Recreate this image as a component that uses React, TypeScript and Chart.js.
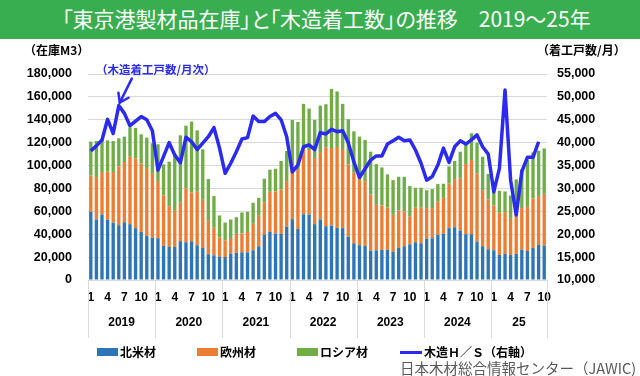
import React, { useEffect, useRef } from 'react';
import { Chart, registerables } from 'chart.js';
Chart.register(...registerables);

// ---- categories ----
const YEAR_LABELS = ['2019', '2020', '2021', '2022', '2023', '2024', '25'];
const MONTHS_IN_YEAR = [12, 12, 12, 12, 12, 12, 10];
const MONTH_TICKS = [1, 4, 7, 10];

// ---- series (m3 / houses per month) ----
const NORTH_AMERICA = [
  59600, 52900, 57200, 52600, 50200, 47900, 50500, 48800, 45300, 42000, 38500, 36800,
  36500, 29800, 28900, 28900, 33900, 33000, 33900, 30400, 28000, 22500, 21600, 20100,
  20100, 23100, 23900, 24200, 24200, 26000, 29500, 39700, 42000, 40600, 40300, 46400,
  53100, 44700, 57500, 57200, 48800, 52900, 47000, 47600, 45600, 45300, 37700, 32100,
  30400, 29800, 25700, 26000, 26300, 26300, 24800, 28000, 29500, 31200, 33000, 32100,
  35900, 36500, 39400, 40600, 45300, 46100, 43200, 40000, 40000, 33600, 29500, 26900,
  26000, 21900, 22800, 21900, 22800, 26600, 25400, 28000, 30700, 30100,
];
const EUROPE = [
  31800, 37000, 37100, 42000, 44100, 51400, 52600, 58900, 61000, 59900, 59300, 56600,
  49900, 44100, 35600, 31500, 33600, 47000, 42600, 46700, 42100, 29800, 24000, 17000,
  14600, 12800, 16400, 16400, 17800, 23100, 26600, 28300, 35100, 36800, 38800, 40000,
  47300, 51400, 57500, 56400, 57800, 58900, 68600, 67700, 70600, 69200, 63300, 61600,
  57800, 56600, 49100, 39700, 38800, 37100, 32100, 33000, 30400, 24600, 30100, 31000,
  26900, 26300, 28900, 31200, 38800, 42100, 45300, 61300, 64800, 59500, 49000, 43500,
  39100, 36800, 36500, 31500, 40600, 36200, 38500, 43200, 42000, 45200,
];
const RUSSIA = [
  29500, 31600, 28600, 27400, 27200, 24500, 22200, 25700, 26600, 25400, 26600, 26000,
  32200, 27100, 38900, 49700, 58900, 54900, 61900, 53700, 44100, 35900, 27700, 19300,
  15500, 17000, 14600, 18400, 17600, 18400, 15700, 20500, 19300, 19800, 24900, 26300,
  39500, 42000, 38900, 36200, 33300, 40600, 38000, 51700, 48500, 39400, 39500, 36200,
  37100, 35900, 37300, 35600, 33300, 28900, 30400, 29200, 30300, 26300, 17500, 17500,
  15700, 16600, 15500, 12300, 15200, 15800, 23600, 16700, 23400, 26900, 29200, 22200,
  15800, 19300, 18100, 20500, 24500, 33900, 41200, 40300, 40300, 39700,
];
const HOUSING_STARTS = [
  38200, 39300, 40600, 45100, 42000, 48100, 46400, 43700, 44700, 45700, 45000, 42600,
  34000, 37000, 40000, 37300, 35600, 41200, 40200, 38500, 39900, 41300, 43300, 38800,
  33300, 35500, 38000, 40800, 41100, 45800, 44600, 44600, 45700, 46400, 45000, 41300,
  33600, 35100, 39100, 39500, 38500, 42200, 41900, 42900, 42400, 42600, 40000, 35800,
  32400, 34300, 36200, 37100, 37100, 39700, 40400, 41200, 40400, 40600, 38400, 35500,
  31800, 32600, 35100, 38800, 35700, 39100, 40400, 39700, 40600, 41700, 39100, 37500,
  29300, 34400, 51500, 31800, 24200, 33700, 36800, 36800, 40200, null,
];

// ---- texts ----
const TITLE = '「東京港製材品在庫」と「木造着工数」の推移　2019～25年';
const LEFT_AXIS_TITLE = '（在庫M3）';
const RIGHT_AXIS_TITLE = '（着工戸数/月）';
const ANNOTATION = '（木造着工戸数/月次）';
const SOURCE = '日本木材総合情報センター（JAWIC)';
const SERIES_NAMES = ['北米材', '欧州材', 'ロシア材', '木造Ｈ／Ｓ（右軸）'];

// ---- styles ----
const BLUE = '#2E75B6';
const ORANGE = '#ED7D31';
const GREEN = '#70AD47';
const LINE = '#2B2BF0';
const TITLE_BG = '#38AE50';
const NUM_FONT = "'Liberation Sans', Arial, sans-serif";
const JP_FONT = "'Noto Sans CJK JP', 'Noto Sans', sans-serif";

const LABELS: string[] = [];
MONTHS_IN_YEAR.forEach((n) => {
  for (let m = 1; m <= n; m++) LABELS.push(String(m));
});

const yearPlugin = {
  id: 'yearRow',
  afterDraw(chart: any) {
    const { ctx, chartArea } = chart;
    const xs = chart.scales.x;
    const px = (i: number) => xs.getPixelForValue(i);
    ctx.save();
    ctx.strokeStyle = '#D9D9D9';
    ctx.lineWidth = 1;
    ctx.fillStyle = '#000';
    ctx.font = `bold 12px ${NUM_FONT}`;
    ctx.textAlign = 'center';
    ctx.textBaseline = 'middle';
    let start = 0;
    MONTHS_IN_YEAR.forEach((n, yi) => {
      const end = start + n - 1;
      const left = yi === 0 ? chartArea.left : (px(start - 1) + px(start)) / 2;
      const right = yi === MONTHS_IN_YEAR.length - 1 ? chartArea.right : (px(end) + px(end + 1)) / 2;
      const drawV = (x: number) => {
        ctx.beginPath();
        ctx.moveTo(Math.round(x) + 0.5, chartArea.bottom);
        ctx.lineTo(Math.round(x) + 0.5, chartArea.bottom + 58);
        ctx.stroke();
      };
      drawV(left);
      if (yi === MONTHS_IN_YEAR.length - 1) drawV(right);
      ctx.fillText(YEAR_LABELS[yi], (left + right) / 2, chartArea.bottom + 43);
      start += n;
    });
    // arrow pointing to the June-2019 peak of the line
    const lineMeta = chart.getDatasetMeta(0);
    const peak = lineMeta.data[5];
    if (peak) {
      const tx = peak.x + 1;
      const ty = peak.y - 3;
      const sx = tx + 12;
      const sy = ty - 24;
      ctx.strokeStyle = LINE;
      ctx.lineWidth = 2.5;
      ctx.lineCap = 'round';
      ctx.beginPath();
      ctx.moveTo(sx, sy);
      ctx.lineTo(tx, ty);
      ctx.stroke();
      const ang = Math.atan2(sy - ty, sx - tx);
      const hl = 10;
      ctx.beginPath();
      ctx.moveTo(tx + hl * Math.cos(ang + 0.6), ty + hl * Math.sin(ang + 0.6));
      ctx.lineTo(tx, ty);
      ctx.lineTo(tx + hl * Math.cos(ang - 0.6), ty + hl * Math.sin(ang - 0.6));
      ctx.stroke();
    }
    ctx.restore();
  },
};

export default function App() {
  const ref = useRef<HTMLCanvasElement>(null);
  useEffect(() => {
    if (!ref.current) return;
    const tickFont = { family: NUM_FONT, size: 12.5, weight: 'bold' as const };
    const chart = new Chart(ref.current, {
      type: 'bar',
      data: {
        labels: LABELS,
        datasets: [
          {
            type: 'line',
            label: SERIES_NAMES[3],
            data: HOUSING_STARTS as any,
            yAxisID: 'y2',
            borderColor: LINE,
            backgroundColor: LINE,
            borderWidth: 3.5,
            pointRadius: 0,
            tension: 0,
            order: 0,
            borderJoinStyle: 'round',
          } as any,
          { label: SERIES_NAMES[0], data: NORTH_AMERICA, backgroundColor: BLUE, stack: 's', yAxisID: 'y', order: 1, barPercentage: 0.6, categoryPercentage: 1 },
          { label: SERIES_NAMES[1], data: EUROPE, backgroundColor: ORANGE, stack: 's', yAxisID: 'y', order: 1, barPercentage: 0.6, categoryPercentage: 1 },
          { label: SERIES_NAMES[2], data: RUSSIA, backgroundColor: GREEN, stack: 's', yAxisID: 'y', order: 1, barPercentage: 0.6, categoryPercentage: 1 },
        ],
      },
      options: {
        animation: false,
        responsive: false,
        maintainAspectRatio: false,
        layout: { padding: { top: 74, left: 0, right: 0, bottom: 0 } },
        plugins: { legend: { display: false }, tooltip: { enabled: false }, title: { display: false } },
        scales: {
          x: {
            stacked: true,
            grid: { display: false, drawTicks: false },
            border: { display: false },
            ticks: {
              autoSkip: false,
              maxRotation: 0,
              padding: 10,
              color: '#000',
              font: { family: NUM_FONT, size: 12, weight: 'bold' },
              callback: (_v: any, i: number) => (MONTH_TICKS.includes(Number(LABELS[i])) ? LABELS[i] : ''),
            },
            afterFit: (s: any) => {
              s.height = 96;
            },
          },
          y: {
            stacked: true,
            position: 'left',
            min: 0,
            max: 180000,
            ticks: {
              stepSize: 20000,
              padding: 16,
              color: '#000',
              font: tickFont,
              callback: (v: any) => Number(v).toLocaleString('en-US'),
            },
            grid: { color: '#D9D9D9', drawTicks: false },
            border: { display: false },
            afterFit: (s: any) => {
              s.width = 88;
            },
          },
          y2: {
            position: 'right',
            min: 10000,
            max: 55000,
            ticks: {
              stepSize: 5000,
              padding: 10,
              color: '#000',
              font: tickFont,
              callback: (v: any) => Number(v).toLocaleString('en-US'),
            },
            grid: { display: false, drawTicks: false },
            border: { display: false },
            afterFit: (s: any) => {
              s.width = 93;
            },
          },
        },
      } as any,
      plugins: [yearPlugin],
    });
    return () => chart.destroy();
  }, []);

  const abs = (extra: React.CSSProperties): React.CSSProperties => ({
    position: 'absolute',
    whiteSpace: 'nowrap',
    lineHeight: 1,
    ...extra,
  });
  const legendColors = [BLUE, ORANGE, GREEN];
  const legendX = [97, 197, 297];

  return (
    <div style={{ position: 'absolute', left: 0, top: 0, width: 640, height: 376, background: '#fff', overflow: 'hidden' }}>
      <div style={{ position: 'absolute', left: 0, top: 0, width: 640, height: 39, background: TITLE_BG }} />
      <div style={abs({ left: 62, top: 8, color: '#fff', fontFamily: JP_FONT, fontSize: 21, fontFeatureSettings: '"palt"' })}>{TITLE}</div>
      <canvas ref={ref} width={640} height={376} style={{ position: 'absolute', left: 0, top: 0, width: 640, height: 376 }} />
      <div style={abs({ left: 24, top: 44, color: '#000', fontFamily: JP_FONT, fontSize: 12, fontWeight: 'bold' })}>{LEFT_AXIS_TITLE}</div>
      <div style={abs({ left: 537, top: 44, color: '#000', fontFamily: JP_FONT, fontSize: 12, fontWeight: 'bold' })}>{RIGHT_AXIS_TITLE}</div>
      <div style={abs({ left: 96, top: 64, color: LINE, fontFamily: JP_FONT, fontSize: 11.5, fontWeight: 'bold' })}>{ANNOTATION}</div>
      {legendColors.map((c, i) => (
        <React.Fragment key={i}>
          <div style={{ position: 'absolute', left: legendX[i], top: 348, width: 21, height: 8, background: c }} />
          <div style={abs({ left: legendX[i] + 23, top: 346, color: '#000', fontFamily: JP_FONT, fontSize: 12, fontWeight: 'bold' })}>{SERIES_NAMES[i]}</div>
        </React.Fragment>
      ))}
      <div style={{ position: 'absolute', left: 400, top: 351, width: 22, height: 3, background: LINE }} />
      <div style={abs({ left: 424, top: 346, color: '#000', fontFamily: JP_FONT, fontSize: 12, fontWeight: 'bold' })}>{SERIES_NAMES[3]}</div>
      <div style={abs({ left: 400, top: 361, color: '#595959', fontFamily: JP_FONT, fontSize: 14.5 })}>{SOURCE}</div>
    </div>
  );
}
